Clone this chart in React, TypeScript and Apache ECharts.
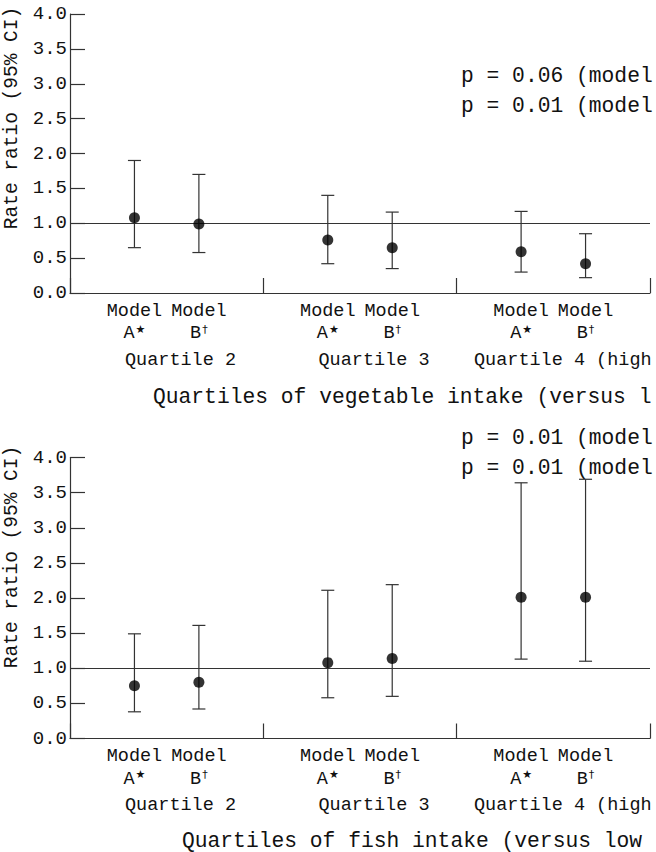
import React, { useEffect, useRef } from 'react';
import * as echarts from 'echarts';

// texts as visible in the (right-cropped) reference
const quartiles = ['Quartile 2', 'Quartile 3', 'Quartile 4 (high'];
const modelNames = ['A', 'B'];
const modelMarks = ['\u2605', '\u2020'];

const vegEst = [1.08, 0.99, 0.76, 0.65, 0.59, 0.42];
const vegLow = [0.65, 0.58, 0.42, 0.35, 0.30, 0.22];
const vegHigh = [1.90, 1.70, 1.40, 1.16, 1.17, 0.85];
const vegP = ['p = 0.06 (model', 'p = 0.01 (model'];
const vegTitle = 'Quartiles of vegetable intake (versus l';

const fishEst = [0.75, 0.80, 1.08, 1.14, 2.01, 2.01];
const fishLow = [0.38, 0.42, 0.58, 0.60, 1.13, 1.10];
const fishHigh = [1.49, 1.61, 2.11, 2.19, 3.64, 3.69];
const fishP = ['p = 0.01 (model', 'p = 0.01 (model'];
const fishTitle = 'Quartiles of fish intake (versus low';

const yTitle = 'Rate ratio (95% CI)';

const FONT = '"Liberation Mono", "Courier New", monospace';
const LINE = '#333';
const TEXT = '#111';

// slot on a 0..9 axis: group g gets slots 3g+1 (model A) and 3g+2 (model B)
const slot = (i: number) => Math.floor(i / 2) * 3 + (i % 2) + 1;
const labelSlots = [0, 1, 2, 3, 4, 5].map(slot);

function panel(gi: number, top: number, height: number, est: number[], low: number[], high: number[]) {
  const grid = { left: 70, top, width: 580, height };
  const xAxis = {
    type: 'value',
    gridIndex: gi,
    min: 0,
    max: 9,
    interval: 1,
    axisLine: { show: true, lineStyle: { color: LINE, width: 1.2 } },
    axisTick: { show: true, inside: true, length: 15, customValues: [0, 3, 6, 9], lineStyle: { color: LINE, width: 1.2 } },
    splitLine: { show: false },
    axisLabel: {
      show: true,
      customValues: labelSlots,
      margin: 7,
      formatter: (v: number) => {
        const m = Math.round(v) % 3 - 1;
        if (m < 0) return '';
        return `{m|Model}\n{a|${modelNames[m]}}{s|${modelMarks[m]}}`;
      },
      rich: {
        m: { fontFamily: FONT, fontSize: 18.5, lineHeight: 22.5, color: TEXT },
        a: { fontFamily: FONT, fontSize: 18.5, lineHeight: 22.5, color: TEXT },
        s: { fontFamily: '"DejaVu Sans", "Liberation Mono", sans-serif', fontSize: 11, lineHeight: 22.5, color: TEXT, verticalAlign: 'top', padding: [1, 0, 0, 1] },
      },
    },
  };
  const yAxis = {
    type: 'value',
    gridIndex: gi,
    min: 0,
    max: 4,
    interval: 0.5,
    axisLine: { show: true, lineStyle: { color: LINE, width: 1.2 } },
    axisTick: { show: true, inside: true, length: 15, lineStyle: { color: LINE, width: 1.2 } },
    splitLine: { show: false },
    axisLabel: {
      margin: 3,
      fontFamily: FONT,
      fontSize: 19,
      color: TEXT,
      formatter: (v: number) => v.toFixed(1),
    },
  };
  const bars = {
    type: 'custom',
    xAxisIndex: gi,
    yAxisIndex: gi,
    encode: { x: 0, y: [1, 2] },
    data: est.map((_, i) => [slot(i), low[i], high[i]]),
    renderItem: (params: any, api: any) => {
      const x = api.value(0);
      const pLo = api.coord([x, api.value(1)]);
      const pHi = api.coord([x, api.value(2)]);
      const w = 6.5;
      const style = { stroke: LINE, lineWidth: 1.2, fill: null };
      return {
        type: 'group',
        children: [
          { type: 'line', shape: { x1: pLo[0], y1: pLo[1], x2: pHi[0], y2: pHi[1] }, style },
          { type: 'line', shape: { x1: pLo[0] - w, y1: pLo[1], x2: pLo[0] + w, y2: pLo[1] }, style },
          { type: 'line', shape: { x1: pHi[0] - w, y1: pHi[1], x2: pHi[0] + w, y2: pHi[1] }, style },
        ],
      };
    },
    z: 3,
  };
  const points = {
    type: 'scatter',
    xAxisIndex: gi,
    yAxisIndex: gi,
    data: est.map((v, i) => [slot(i), v]),
    symbol: 'circle',
    symbolSize: 11,
    itemStyle: { color: '#000' },
    z: 5,
    markLine: {
      silent: true,
      symbol: 'none',
      label: { show: false },
      lineStyle: { color: LINE, width: 1.2, type: 'solid' },
      data: [{ yAxis: 1 }],
      z: 2,
    },
  };
  return { grid, xAxis, yAxis, series: [bars, points] };
}

function textEl(text: string, x: number, y: number, size: number, align: string, rotation = 0) {
  return {
    type: 'text',
    x,
    y,
    rotation,
    silent: true,
    style: {
      text,
      x: 0,
      y: 0,
      fill: TEXT,
      font: `${size}px ${FONT}`,
      fontFamily: FONT,
      fontSize: size,
      align,
      verticalAlign: 'middle',
      textAlign: align,
      textVerticalAlign: 'middle',
    },
  };
}

export default function App() {
  const ref = useRef<HTMLDivElement>(null);
  useEffect(() => {
    if (!ref.current) return;
    const chart = echarts.init(ref.current, null, { renderer: 'svg', width: 656, height: 852 });
    const p1 = panel(0, 14, 279, vegEst, vegLow, vegHigh);
    const p2 = panel(1, 457.5, 281, fishEst, fishLow, fishHigh);
    const qX = [125, 318.5, 474];
    const graphics: any[] = [];
    // top panel texts
    graphics.push(textEl(vegP[0], 461, 75.5, 21.3, 'left'));
    graphics.push(textEl(vegP[1], 461, 105.5, 21.3, 'left'));
    quartiles.forEach((q, i) => graphics.push(textEl(q, qX[i], 360.5, 18.5, 'left')));
    graphics.push(textEl(vegTitle, 153, 396.5, 21.3, 'left'));
    graphics.push(textEl(yTitle, 12, 118, 19.5, 'center', Math.PI / 2));
    // bottom panel texts
    graphics.push(textEl(fishP[0], 461, 438, 21.3, 'left'));
    graphics.push(textEl(fishP[1], 461, 468, 21.3, 'left'));
    quartiles.forEach((q, i) => graphics.push(textEl(q, qX[i], 805, 18.5, 'left')));
    graphics.push(textEl(fishTitle, 182, 841, 21.3, 'left'));
    graphics.push(textEl(yTitle, 12, 557, 19.5, 'center', Math.PI / 2));

    chart.setOption({
      animation: false,
      backgroundColor: '#fff',
      grid: [p1.grid, p2.grid],
      xAxis: [p1.xAxis, p2.xAxis],
      yAxis: [p1.yAxis, p2.yAxis],
      series: [...p1.series, ...p2.series],
      graphic: graphics,
    });
    return () => chart.dispose();
  }, []);
  return (
    <div
      ref={ref}
      style={{ position: 'absolute', left: 0, top: 0, width: 656, height: 852, overflow: 'hidden', background: '#fff' }}
    />
  );
}
